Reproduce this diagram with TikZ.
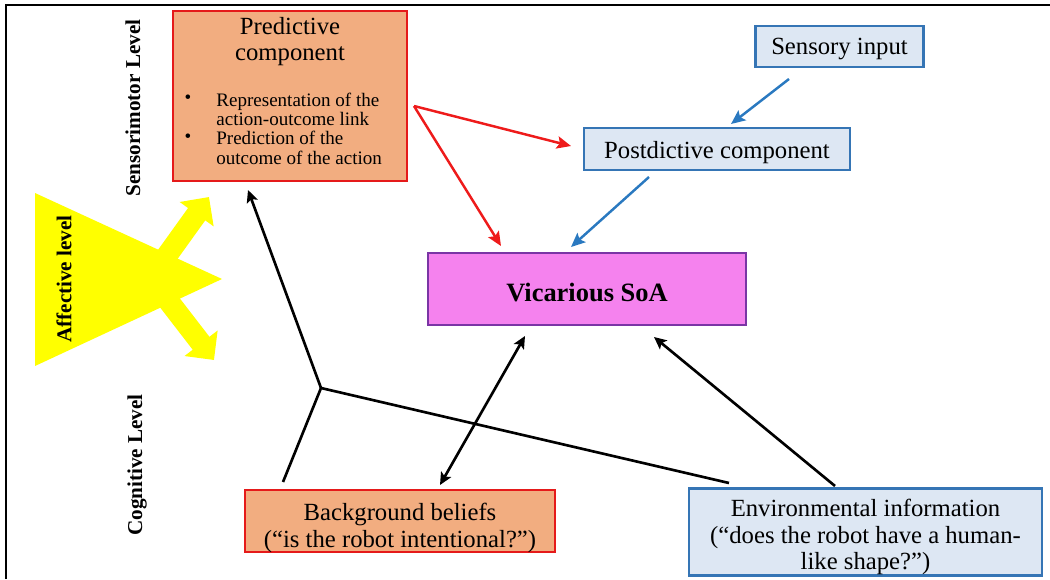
\documentclass[tikz,border=0pt]{standalone}
\usepackage{fontspec}
\setmainfont{Liberation Serif}
\usetikzlibrary{arrows.meta,calc}

\definecolor{predfill}{HTML}{F2AD80}
\definecolor{predline}{HTML}{E51A1A}
\definecolor{bluefill}{HTML}{DDE7F3}
\definecolor{blueline}{HTML}{3575B5}
\definecolor{soafill}{HTML}{F582EE}
\definecolor{soaline}{HTML}{7A35A5}
\definecolor{affect}{HTML}{FFFF00}
\definecolor{redarrow}{HTML}{EE1B1B}
\definecolor{bluearrow}{HTML}{2A79C0}

\tikzset{
  wh/.style 2 args={minimum width=#1*0.567pt, minimum height=#2*0.567pt},
  box/.style={draw, line width=1.6pt, inner sep=0pt},
  orangebox/.style={box, draw=predline, fill=predfill},
  bluebox/.style={box, draw=blueline, fill=bluefill},
  soabox/.style={box, draw=soaline, fill=soafill},
  boxtext/.style={inner sep=0pt, align=center, text=black, font=\fontsize{14}{15.2}\selectfont},
  levellabel/.style={rotate=90, inner sep=0pt, font=\bfseries\fontsize{12}{14}\selectfont},
  redarr/.style={draw=redarrow, line width=1.4pt, -{Stealth[length=8pt,width=7pt,inset=1.5pt]}},
  bluearr/.style={draw=bluearrow, line width=1.4pt, -{Stealth[length=8pt,width=7pt,inset=1.5pt]}},
  blk/.style={draw=black, line width=1.5pt},
  blkarr/.style={blk, -{Stealth[length=7pt,width=6.5pt,inset=1.5pt]}},
  yarrow/.style={draw=affect, line width=12pt, -{Triangle[length=12pt,width=23pt]}}
}

\begin{document}
\begin{tikzpicture}[x=0.567pt, y=-0.567pt]
\useasboundingbox (0,0) rectangle (1050,579);

% frame on the top and left
\draw[line width=1.2pt] (6,579) -- (6,5) -- (1050,5);

% affective level: triangle with two broad arrows
\fill[affect] (35,193) -- (222,279) -- (35,366) -- cycle;
\coordinate (yu0) at (158,268);
\coordinate (yu1) at (209,197);
\coordinate (yd0) at (160,290);
\coordinate (yd1) at (214,360);
\draw[yarrow] (yu0) -- (yu1);
\draw[yarrow] (yd0) -- (yd1);
\node[levellabel] (laff) at (64,279) {Affective level};

% level labels
\node[levellabel] (lsm) at (133,108) {Sensorimotor Level};
\node[levellabel] (lcog) at (137,465) {Cognitive Level};

% predictive component
\node[orangebox, wh={234}{170}] (pred) at (290,96) {};
\node[boxtext, font=\fontsize{14}{14.4}\selectfont] (predtitle) at (290,41.5) {Predictive\\component};
\node[anchor=west, align=left, inner sep=0pt, font=\fontsize{10.8}{10.95}\selectfont] (predlist) at (216,128.5)
  {Representation of the\\action-outcome link\\Prediction of the\\outcome of the action};
\node[inner sep=0pt, font=\fontsize{10.8}{11}\selectfont] (b1) at (188,99) {•};
\node[inner sep=0pt, font=\fontsize{10.8}{11}\selectfont] (b2) at (188,138) {•};

% other boxes and their texts
\node[bluebox, wh={168}{41}] (sens) at (839.5,46.5) {};
\node[boxtext] (senstext) at ($(sens.center)+(0,2)$) {Sensory input};

\node[bluebox, wh={266}{42}] (post) at (717,149) {};
\node[boxtext] (posttext) at ($(post.center)+(0,4)$) {Postdictive component};

\node[soabox, wh={318}{72}] (soa) at (587,289) {};
\node[boxtext, font=\bfseries\fontsize{15}{17}\selectfont] (soatext) at ($(soa.center)+(0,4)$) {Vicarious SoA};

\node[orangebox, wh={310}{62}] (bb) at (400,521) {};
\node[boxtext, font=\fontsize{14}{15.3}\selectfont] (bbtext) at ($(bb.center)+(0,7)$)
  {Background beliefs\\(“is the robot intentional?”)};

\node[bluebox, wh={353}{87}] (env) at (865.5,532) {};
\node[boxtext, font=\fontsize{14}{15}\selectfont] (envtext) at ($(env.center)+(0,5)$)
  {Environmental information\\(“does the robot have a human-\\like shape?”)};

% red arrows from the predictive component
\coordinate (rs) at (414,106);
\coordinate (rt1) at (571,146);
\coordinate (rt2) at (501,246);
\draw[redarr] (rs) -- (rt1);
\draw[redarr] (rs) -- (rt2);

% blue arrows
\coordinate (bs1) at (789,79);
\coordinate (bt1) at (731,124);
\coordinate (bs2) at (649,177);
\coordinate (bt2) at (571,247);
\draw[bluearr] (bs1) -- (bt1);
\draw[bluearr] (bs2) -- (bt2);

% black connectors
\coordinate (J) at (321,388);
\coordinate (kp) at (248,190);
\coordinate (kb) at (283,482);
\coordinate (ke) at (729,483);
\draw[blk] (kb) -- (J) -- (ke);
\draw[blkarr] (J) -- (kp);

\coordinate (db) at (440,485);
\coordinate (ds) at (525,336);
\draw[blk, {Stealth[length=7pt,width=6.5pt,inset=1.5pt]}-{Stealth[length=7pt,width=6.5pt,inset=1.5pt]}] (db) -- (ds);

\coordinate (es) at (835,486);
\coordinate (et) at (654,337);
\draw[blkarr] (es) -- (et);
\end{tikzpicture}
\end{document}
